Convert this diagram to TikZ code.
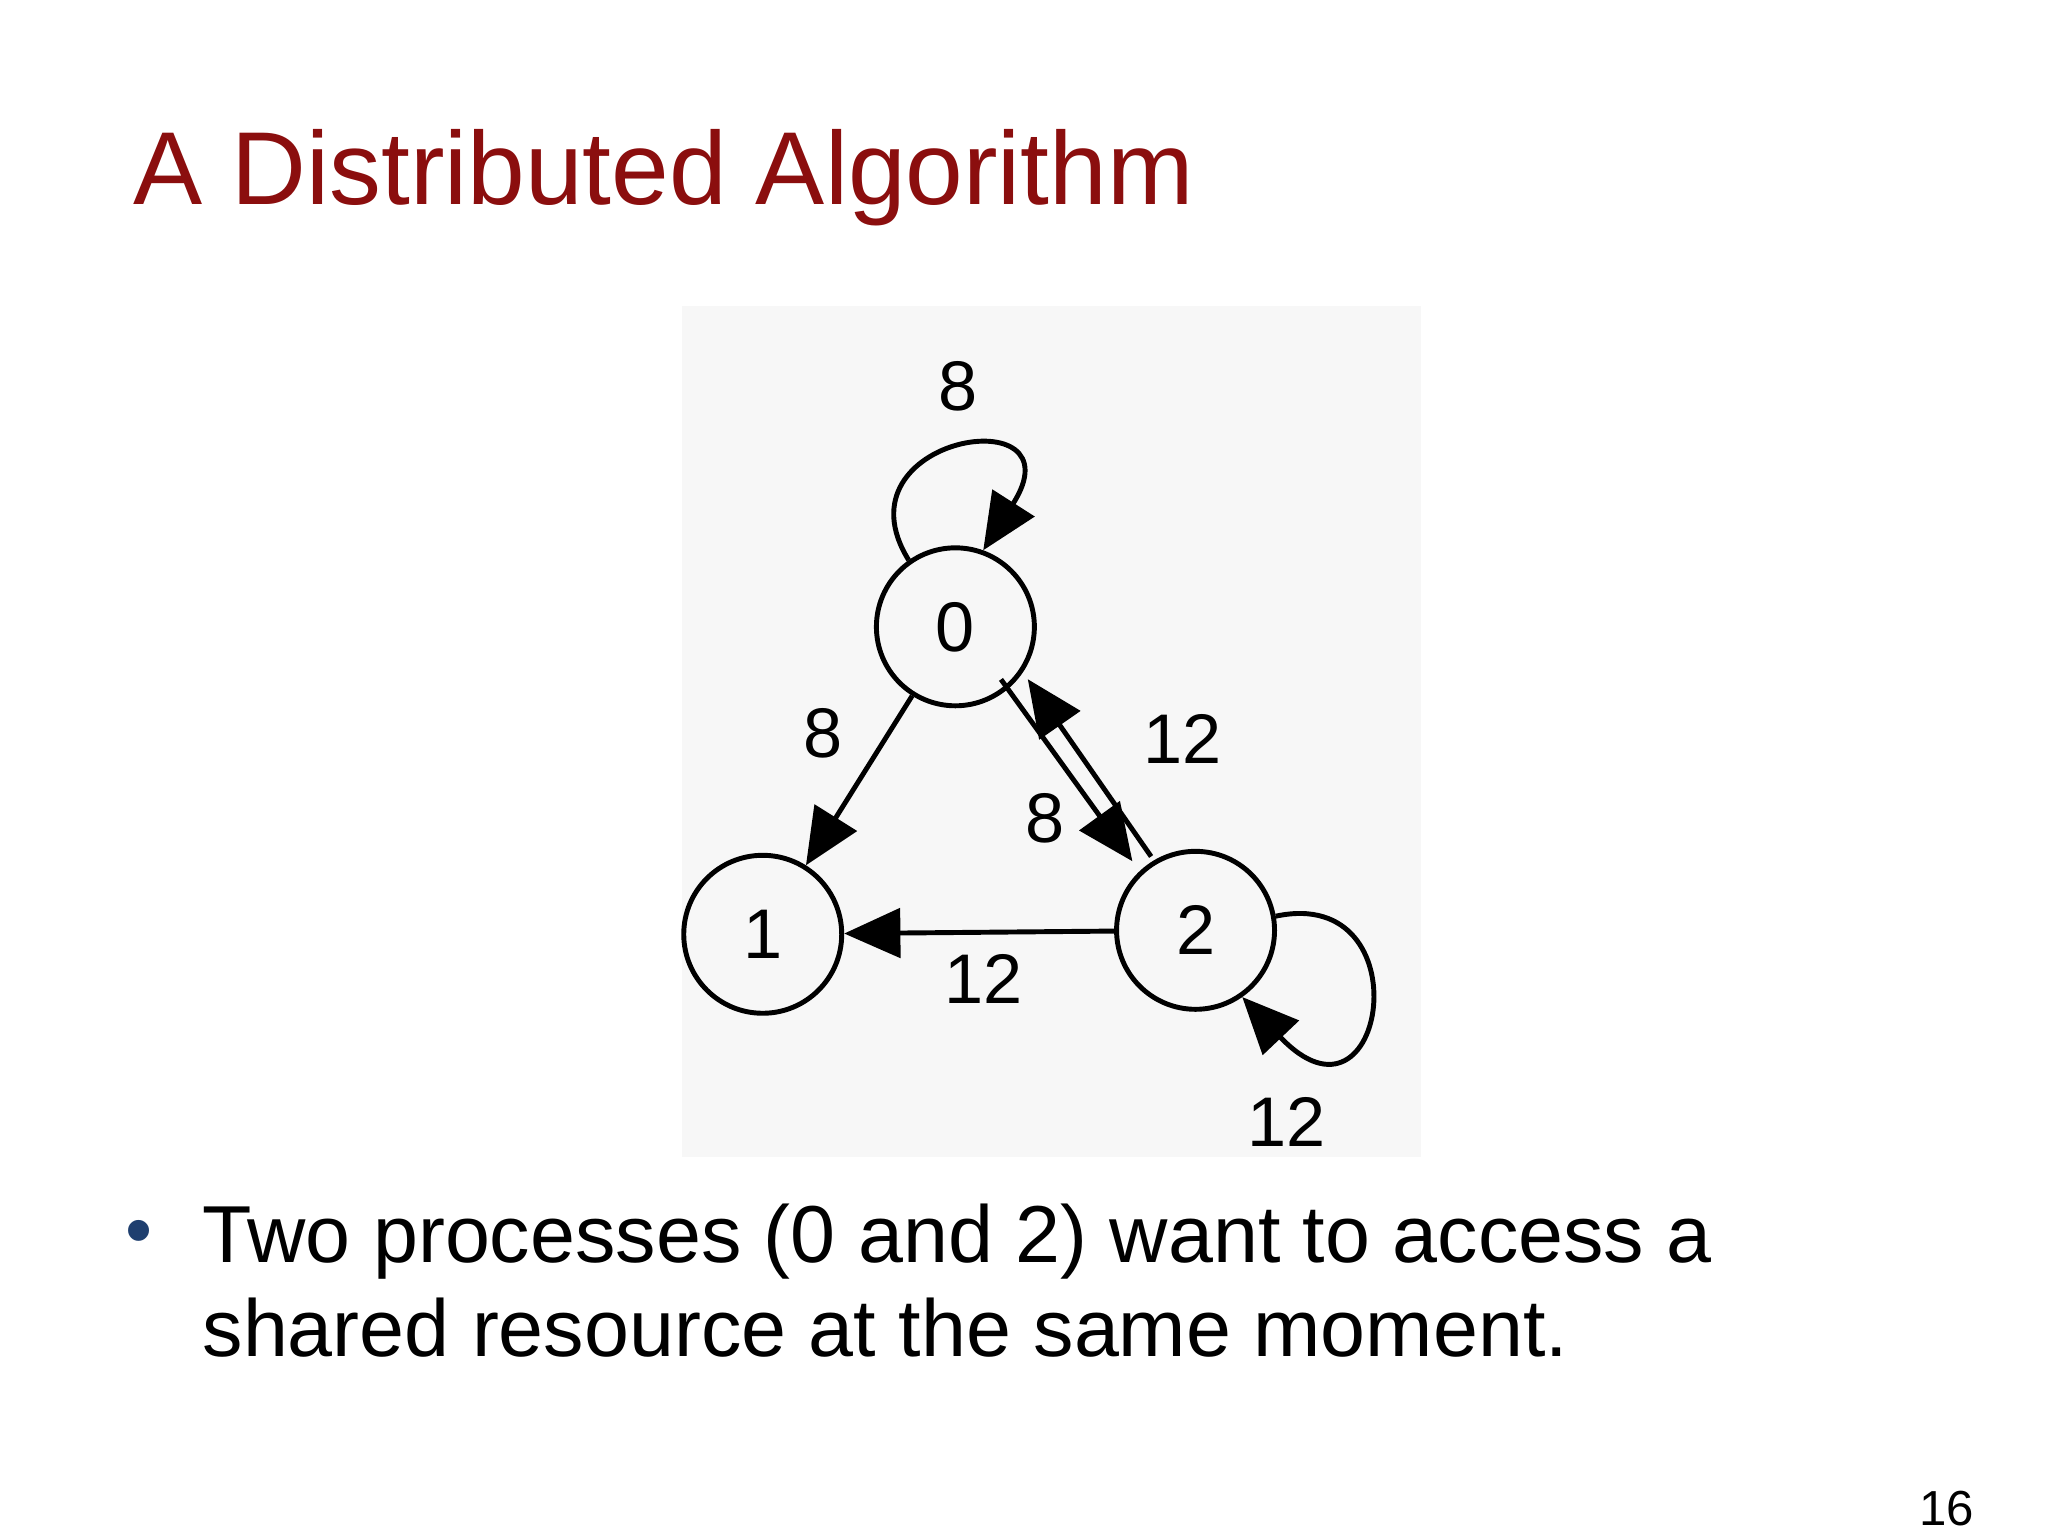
\documentclass[tikz,border=0pt]{standalone}
\usepackage{fontspec}
\setmainfont{Liberation Sans}
\usetikzlibrary{arrows.meta}
\definecolor{titlered}{HTML}{8B0E0E}
\definecolor{bulletblue}{HTML}{1F3F6F}
\begin{document}
\begin{tikzpicture}[x=0.0132cm,y=-0.0132cm,
  proc/.style={circle,draw,line width=1.4pt,minimum size=1.58cm,inner sep=0pt,font=\fontsize{20}{22}\selectfont},
  edge/.style={line width=1.4pt,-{Triangle[length=16pt,width=14pt]}},
  lbl/.style={font=\fontsize{20}{22}\selectfont}]
\useasboundingbox (0,0) rectangle (1552,1164);
\fill[white] (0,0) rectangle (1552,1164);
\fill[black!3] (517,232) rectangle (1077,877);
\node[anchor=base west,text=titlered,font=\fontsize{29.5}{34}\selectfont] (title) at (92,155) {A Distributed Algorithm};
\node[proc] (n0) at (724,475) {0};
\node[proc] (n1) at (578,708) {1};
\node[proc] (n2) at (906,705) {2};
\draw[edge] (n0) -- (n1);
\draw[edge] ([xshift=-0.12cm,yshift=0.05cm]n0.-45) -- ([xshift=-0.2cm]n2.122);
\draw[edge] ([xshift=-0.1cm]n2.115) -- ([xshift=0.1cm]n0.-40);
\draw[edge] (n2) -- (n1);
\draw[edge] (n0.125) .. controls (630,330) and (820,300) .. (n0.70);
\draw[edge] (n2.10) .. controls (1080,670) and (1050,870) .. (n2.-55);
\node[lbl] (l1) at (726,293) {8};
\node[lbl] (l2) at (624,556) {8};
\node[lbl] (l3) at (896,560) {12};
\node[lbl] (l4) at (792,620) {8};
\node[lbl] (l5) at (745,742) {12};
\node[lbl] (l6) at (975,850) {12};
\node[anchor=base,text=bulletblue,font=\fontsize{22}{26}\selectfont] (b) at (105,952) {•};
\node[anchor=base west,align=left,font=\fontsize{23}{29}\selectfont,inner sep=0pt] (t1) at (153,957) {Two processes (0 and 2) want to access a};
\node[anchor=base west,align=left,font=\fontsize{23}{29}\selectfont,inner sep=0pt] (t2) at (153,1028) {shared resource at the same moment.};
\node[anchor=base,font=\fontsize{14}{16}\selectfont] (pg) at (1475,1156) {16};
\end{tikzpicture}
\end{document}
